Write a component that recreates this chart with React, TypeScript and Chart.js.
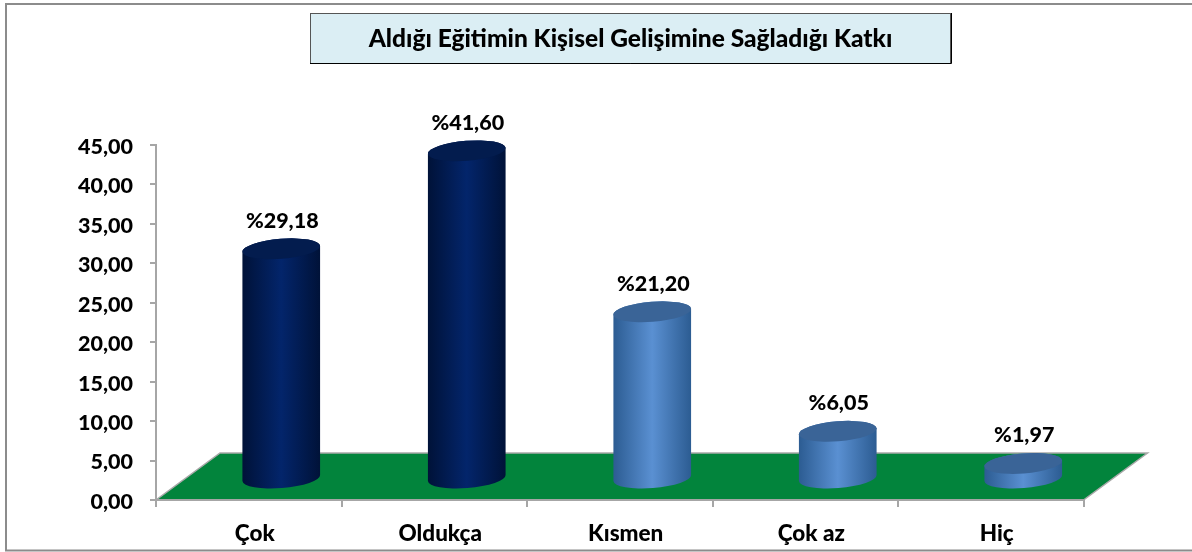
import React, { useEffect, useRef } from "react";
import { Chart, registerables } from "chart.js";

Chart.register(...registerables);

const categories = ["Çok", "Oldukça", "Kısmen", "Çok az", "Hiç"];
const values = [29.18, 41.6, 21.2, 6.05, 1.97];
const yMax = 45;
const yStep = 5;
const titleText = "Aldığı Eğitimin Kişisel Gelişimine Sağladığı Katkı";

const FONT = "Lato, Carlito, sans-serif";
const WEIGHT = 900;
const dark = { edge: "#001238", mid: "#03256b", top: "#031c4e" };
const light = { edge: "#2c5c92", mid: "#5a90d2", top: "#3a6497" };
const palette = [dark, dark, light, light, light];
const DEPTH_X = 64;
const DEPTH_Y = 47;
const OFFSET_X = 32.5;
const OFFSET_Y = 21;
const TILT = (-4.5 * Math.PI) / 180;
const RY = 10;

const comma = (v: number) => v.toFixed(2).replace(".", ",");

const decor = {
  id: "decor",
  afterLayout(chart: any) {
    if (chart.titleBlock) {
      chart.titleBlock.left = 310;
      chart.titleBlock.right = 951;
    }
  },
  beforeDraw(chart: any) {
    const { ctx, chartArea: a } = chart;
    ctx.save();
    ctx.strokeStyle = "#8c8c8c";
    ctx.lineWidth = 2;
    ctx.beginPath();
    ctx.moveTo(1192, 4);
    ctx.lineTo(6, 4);
    ctx.lineTo(6, 550.5);
    ctx.lineTo(1192, 550.5);
    ctx.stroke();

    ctx.fillStyle = "#dbeef4";
    ctx.fillRect(310, 13, 641, 50);
    ctx.lineWidth = 1;
    ctx.strokeStyle = "#555";
    ctx.strokeRect(310.5, 13.5, 640, 50);
    ctx.strokeStyle = "#000";
    ctx.beginPath();
    ctx.moveTo(310, 63.5);
    ctx.lineTo(951.5, 63.5);
    ctx.lineTo(951.5, 13);
    ctx.stroke();
    ctx.restore();

    ctx.save();
    ctx.beginPath();
    ctx.moveTo(a.left, a.bottom);
    ctx.lineTo(a.right, a.bottom);
    ctx.lineTo(a.right + DEPTH_X, a.bottom - DEPTH_Y);
    ctx.lineTo(a.left + DEPTH_X, a.bottom - DEPTH_Y);
    ctx.closePath();
    ctx.fillStyle = "#02843c";
    ctx.fill();
    ctx.strokeStyle = "#a9a9a9";
    ctx.lineWidth = 1.5;
    ctx.stroke();
    ctx.restore();
  },
  afterDatasetsDraw(chart: any) {
    const { ctx } = chart;
    const meta = chart.getDatasetMeta(0);
    meta.data.forEach((bar: any, i: number) => {
      const c = palette[i];
      const rx = bar.width / 2;
      const cx = bar.x + OFFSET_X;
      const topY = bar.y - OFFSET_Y;
      const baseY = bar.base - OFFSET_Y;
      ctx.save();
      const g = ctx.createLinearGradient(cx - rx, 0, cx + rx, 0);
      g.addColorStop(0, c.edge);
      g.addColorStop(0.5, c.mid);
      g.addColorStop(1, c.edge);
      ctx.beginPath();
      ctx.ellipse(cx, topY, rx, RY, TILT, Math.PI, 0, false);
      ctx.ellipse(cx, baseY, rx, RY, TILT, 0, Math.PI, false);
      ctx.closePath();
      ctx.fillStyle = g;
      ctx.fill();
      ctx.beginPath();
      ctx.ellipse(cx, topY, rx, RY, TILT, 0, Math.PI * 2);
      ctx.fillStyle = c.top;
      ctx.fill();
      ctx.fillStyle = "#000";
      ctx.font = `${WEIGHT} 21.5px ${FONT}`;
      ctx.textAlign = "center";
      ctx.textBaseline = "middle";
      ctx.fillText("%" + comma(values[i]), cx + 1, topY - 28);
      ctx.restore();
    });
  },
};

export default function App() {
  const ref = useRef<HTMLCanvasElement>(null);
  useEffect(() => {
    document.body.style.margin = "0";
    const chart = new Chart(ref.current!, {
      type: "bar",
      data: {
        labels: categories,
        datasets: [
          {
            data: values,
            backgroundColor: "rgba(0,0,0,0)",
            borderWidth: 0,
            barPercentage: 0.42,
            categoryPercentage: 1,
          },
        ],
      },
      plugins: [decor],
      options: {
        responsive: false,
        animation: false,
        layout: { padding: { left: 0, right: 108.5, top: 0, bottom: 0 } },
        plugins: {
          legend: { display: false },
          tooltip: { enabled: false },
          title: {
            display: true,
            text: titleText,
            color: "#000",
            font: { family: FONT, size: 24.5, weight: WEIGHT, lineHeight: 1 },
            padding: { top: 27, bottom: 93.5 },
          },
        },
        scales: {
          x: {
            afterFit: (s: any) => {
              s.height = 52;
            },
            grid: { drawOnChartArea: false, tickLength: 7, color: "#a6a6a6", lineWidth: 2 },
            border: { color: "#a6a6a6", width: 2 },
            ticks: {
              color: "#000",
              padding: 13,
              labelOffset: 6,
              maxRotation: 0,
              font: { family: FONT, size: 22.5, weight: WEIGHT },
            },
          },
          y: {
            min: 0,
            max: yMax,
            afterFit: (s: any) => {
              s.width = 156;
            },
            grid: { drawOnChartArea: false, tickLength: 6, color: "#a6a6a6", lineWidth: 2 },
            border: { color: "#a6a6a6", width: 2 },
            ticks: {
              stepSize: yStep,
              color: "#000",
              padding: 17,
              labelOffset: 2,
              font: { family: FONT, size: 21.5, weight: WEIGHT },
              callback: (v: any) => comma(Number(v)),
            },
          },
        },
      },
    } as any);
    return () => chart.destroy();
  }, []);
  return (
    <div style={{ width: 1192, height: 552 }}>
      <canvas ref={ref} width={1192} height={552} style={{ display: "block" }} />
    </div>
  );
}
